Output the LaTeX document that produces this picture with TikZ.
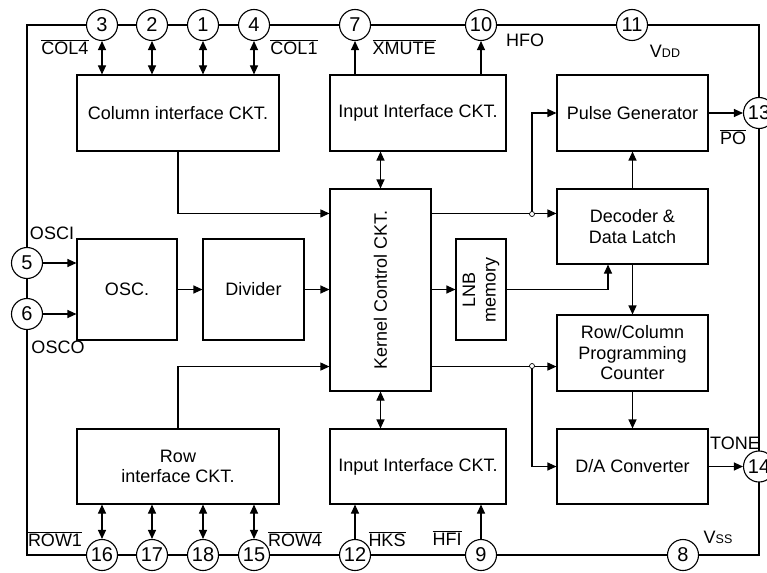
\documentclass[tikz,border=0pt]{standalone}
\usepackage{fontspec}
\setmainfont{Liberation Sans}
\usetikzlibrary{arrows.meta}

\begin{document}
\begin{tikzpicture}[x=1pt,y=-1pt,line width=1.1pt,
	font=\fontsize{18}{20.5}\selectfont,
	>={Triangle[length=9pt,width=8pt]},
	blk/.style={draw,rectangle,inner sep=0pt,align=center},
	pin/.style={draw,circle,fill=white,inner sep=0pt,minimum size=31pt,font=\fontsize{20}{20}\selectfont},
	jdot/.style={draw,circle,fill=white,inner sep=0pt,minimum size=5pt,line width=0.7pt}]
\def	\xl	{27}
\def	\xr	{759}
\def	\yt	{25}
\def	\yb	{555}
\useasboundingbox (0,0) rectangle (767,572);
\draw (\xl,\yt) rectangle (\xr,\yb);
% pins on the frame
\node[pin] (p3) at (102,\yt) {3};
\node[pin] (p2) at (152,\yt) {2};
\node[pin] (p1) at (203,\yt) {1};
\node[pin] (p4) at (254,\yt) {4};
\node[pin] (p7) at (355,\yt) {7};
\node[pin] (p10) at (481,\yt) {10};
\node[pin] (p11) at (632,\yt) {11};
\node[pin] (p13) at (\xr,113) {13};
\node[pin] (p14) at (\xr,466.5) {14};
\node[pin] (p5) at (\xl,263) {5};
\node[pin] (p6) at (\xl,314) {6};
\node[pin] (p16) at (102,\yb) {16};
\node[pin] (p17) at (152,\yb) {17};
\node[pin] (p18) at (203,\yb) {18};
\node[pin] (p15) at (254,\yb) {15};
\node[pin] (p12) at (355,\yb) {12};
\node[pin] (p9) at (481,\yb) {9};
\node[pin] (p8) at (683,\yb) {8};
% blocks
\node[blk,minimum width=202,minimum height=76] (col) at (178,113) {Column interface CKT.};
\node[blk,minimum width=176,minimum height=76] (inT) at (418,113) {Input Interface CKT.};
\node[blk,minimum width=151,minimum height=76] (pulse) at (632.5,113) {Pulse Generator};
\node[blk,minimum width=101,minimum height=202] (kernel) at (380.5,290) {};
\node[rotate=90] (kerneltxt) at (kernel) {Kernel Control CKT.};
\node[blk,minimum width=151,minimum height=75] (dec) at (632.5,226.5) {Decoder \&\\Data Latch};
\node[blk,minimum width=50,minimum height=101] (lnb) at (481,289.5) {};
\node[rotate=90,align=center] (lnbtxt) at (lnb) {LNB\\memory};
\node[blk,minimum width=151,minimum height=76] (rc) at (632.5,353) {Row/Column\\Programming\\Counter};
\node[blk,minimum width=151,minimum height=75] (da) at (632.5,466.5) {D/A Converter};
\node[blk,minimum width=100,minimum height=101] (osc) at (127,289.5) {OSC.};
\node[blk,minimum width=101,minimum height=101] (div) at (253.5,289.5) {Divider};
\node[blk,minimum width=202,minimum height=75] (row) at (178,466.5) {Row\\interface CKT.};
\node[blk,minimum width=176,minimum height=75] (inB) at (418,466.5) {Input Interface CKT.};
\begin{scope}[<->]
\foreach \p in {p3,p2,p1,p4} \draw (\p) -- (\p |- col.north);
\foreach \p in {p16,p17,p18,p15} \draw (\p) -- (\p |- row.south);
\draw (kernel.north) -- (kernel.north |- inT.south);
\draw (kernel.south) -- (kernel.south |- inB.north);
\end{scope}
\begin{scope}[->]
\draw (inT.north -| p7) -- (p7);
\draw (inT.north -| p10) -- (p10);
\draw (p12) -- (p12 |- inB.south);
\draw (p9) -- (p9 |- inB.south);
\draw (col.south) |- ([yshift=-25]kernel.north west);
\draw (row.north) |- ([yshift=25]kernel.south west);
\draw (p5) -- (p5 -| osc.west);
\draw (p6) -- (p6 -| osc.west);
\draw (osc) -- (div);
\draw (div.east) -- (div.east -| kernel.west);
\draw (kernel.east |- lnb.west) -- (lnb.west);
\draw (lnb.east) -| ([xshift=-24.5]dec.south);
\coordinate (j1) at (532,214);
\coordinate (j2) at (532,366);
\draw ([yshift=-25]kernel.north east) -- ([yshift=-25]dec.north west);
\draw (j1) |- (pulse.west);
\draw ([yshift=25]kernel.south east) -- ([yshift=25]rc.south west);
\draw (j2) |- (da.west);
\draw (dec) -- (pulse);
\draw (dec) -- (rc);
\draw (rc) -- (da);
\draw (pulse) -- (p13);
\draw (da) -- (p14);
\end{scope}
\node[jdot] (j1d) at (j1) {};
\node[jdot] (j2d) at (j2) {};
% pin names
\node (lcol4) at (65,47) {$\overline{\hbox{COL4}}$};
\node (lcol1) at (294,47) {$\overline{\hbox{COL1}}$};
\node (lxmute) at (404,47) {$\overline{\hbox{XMUTE}}$};
\node (lhfo) at (525,40) {HFO};
\node (lvdd) at (665,51) {V{\fontsize{12.5}{12}\selectfont DD}};
\node (lpo) at (733,137) {$\overline{\hbox{PO}}$};
\node (losci) at (52,233) {OSCI};
\node (losco) at (58,347) {OSCO};
\node (ltone) at (735,443) {TONE};
\node (lvss) at (718,537) {V{\fontsize{12.5}{12}\selectfont SS}};
\node (lrow1) at (55,539) {$\overline{\hbox{ROW1}}$};
\node (lrow4) at (295,539) {$\overline{\hbox{ROW4}}$};
\node (lhks) at (387,539) {$\overline{\hbox{HKS}}$};
\node (lhfi) at (447,538) {$\overline{\hbox{HFI}}$};
\end{tikzpicture}
\end{document}
